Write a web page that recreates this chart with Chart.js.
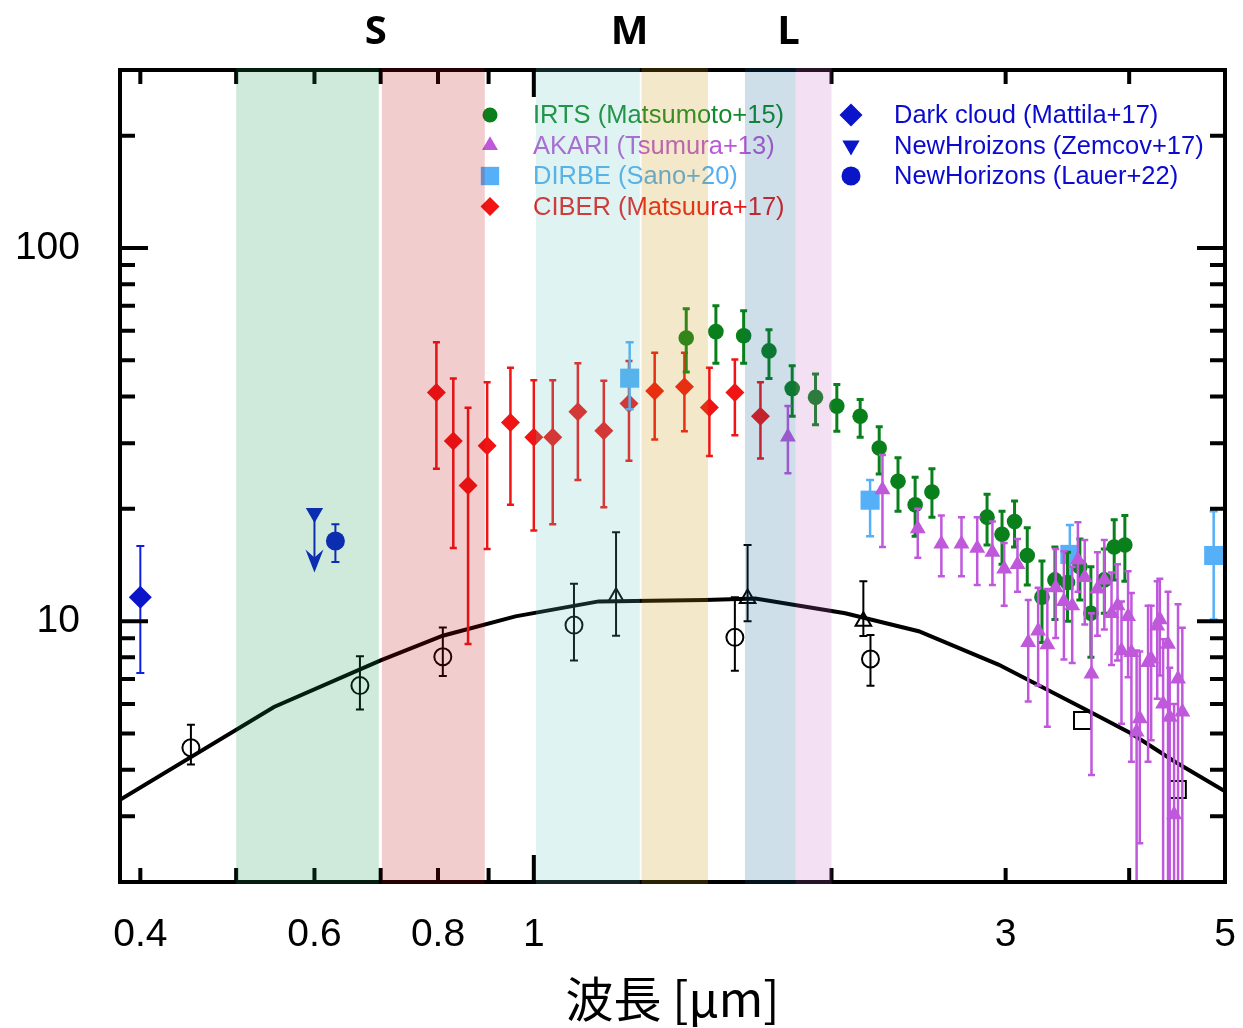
<!DOCTYPE html>
<html>
<head>
<meta charset="utf-8">
<script src="https://cdn.jsdelivr.net/npm/chart.js@4.4.1/dist/chart.umd.min.js"></script>
<style>
  html, body { margin: 0; padding: 0; background: #fff; }
  #wrap { width: 1243px; height: 1028px; }
</style>
</head>
<body>
<div id="wrap"><canvas id="chart" width="1243" height="1028"></canvas></div>
<script>
// axis ticks
const xTicks = [0.4, 0.5, 0.6, 0.7, 0.8, 0.9, 1, 2, 3, 4, 5];
const xLabels = [0.4, 0.6, 0.8, 1, 3, 5];
const yTicks = [3, 4, 5, 6, 7, 8, 9, 10, 20, 30, 40, 50, 60, 70, 80, 90, 100, 200];
const yLabels = [10, 100];

// filter bands (µm) and names above the plot
const bandRanges = [[0.5, 0.697], [0.702, 0.892], [1.005, 1.28], [1.285, 1.5], [1.635, 1.84], [1.84, 2.0]];
const bandColors = ['rgba(15,145,75,0.2)', 'rgba(190,5,10,0.2)', 'rgba(95,195,190,0.2)',
                    'rgba(200,150,14,0.22)', 'rgba(15,95,145,0.2)', 'rgba(195,105,195,0.2)'];
const bandNames = ['S', 'M', 'L'];
const bandNameX = [0.692, 1.25, 1.81];

// model curve
const modelX = [0.3815, 0.546, 0.7, 0.809, 0.958, 1.163, 1.49, 1.675, 2.065, 2.45, 2.95, 3.63, 4.02, 4.45, 5.0];
const modelY = [3.32, 5.89, 7.85, 9.14, 10.3, 11.3, 11.4, 11.5, 10.5, 9.4, 7.65, 5.76, 5.0, 4.2, 3.5];

// open black markers
const circX = [0.450, 0.667, 0.809, 1.098, 1.597, 2.19];
const circY = [4.58, 6.72, 8.03, 9.76, 9.05, 7.92];
const circLo = [4.13, 5.80, 7.13, 7.84, 7.36, 6.71];
const circHi = [5.28, 8.05, 9.62, 12.6, 11.6, 9.18];
const triX = [1.211, 1.645, 2.154];
const triY = [11.6, 11.5, 10.0];
const triLo = [9.14, 10.0, 9.12];
const triHi = [17.3, 16.0, 12.8];
const sqX = [3.588, 4.475];
const sqY = [5.42, 3.54];

// IRTS (Matsumoto+15)
const irtsX = [1.426, 1.528, 1.630, 1.729, 1.825, 1.927, 2.025, 2.138, 2.235, 2.335, 2.430, 2.527,
               2.873, 2.975, 3.063, 3.155, 3.265, 3.365, 3.465, 3.566, 3.659, 3.775, 3.863, 3.960];
const irtsY = [57.4, 59.7, 58.2, 53.0, 42.0, 39.8, 37.7, 35.4, 29.1, 23.7, 20.5, 22.2,
               19.0, 17.1, 18.5, 15.0, 11.6, 12.9, 12.7, 14.0, 10.5, 12.9, 15.8, 16.0];
const irtsLo = [46.5, 49.1, 49.1, 44.7, 35.4, 33.6, 32.3, 31.1, 24.8, 19.7, 16.9, 19.0,
                16.0, 14.2, 15.8, 12.5, 8.77, 10.1, 10.0, 11.4, 8.0, 10.5, 12.9, 12.8];
const irtsHi = [68.7, 70.0, 67.9, 60.4, 48.4, 46.0, 43.1, 39.3, 33.2, 27.4, 24.3, 25.6,
                21.9, 19.7, 21.0, 17.8, 14.5, 15.8, 15.3, 16.6, 14.0, 15.6, 18.7, 19.2];

// AKARI (Tsumura+13)
const akariX = [1.807, 2.252, 2.445, 2.583, 2.707, 2.808, 2.909, 2.99, 3.084, 3.162, 3.236, 3.306,
                3.371, 3.436, 3.503, 3.55, 3.607, 3.664, 3.715, 3.775, 3.839, 3.893, 3.929, 3.99,
                4.021, 4.07, 4.10, 4.18, 4.21, 4.27, 4.296, 4.329, 4.379, 4.396, 4.441, 4.482, 4.527];
const akariY = [31.2, 22.5, 17.7, 16.1, 16.1, 15.7, 15.3, 13.8, 14.2, 8.77, 9.42, 8.65,
                12.3, 11.3, 11.0, 14.6, 13.1, 7.22, 12.2, 12.9, 10.5, 11.0, 8.34, 10.3,
                8.25, 5.05, 5.48, 7.76, 7.92, 9.72, 10.1, 6.0, 8.68, 5.53, 3.03, 7.0, 5.71];
const akariLo = [24.9, 15.8, 14.8, 13.2, 13.2, 12.5, 12.5, 11.0, 12.0, 6.09, 6.72, 5.21,
                 9.01, 7.9, 7.72, 12.0, 9.8, 3.87, 9.14, 9.5, 7.63, 7.84, 5.31, 7.08,
                 4.20, 1.5, 2.54, 4.2, 4.8, 6.20, 7.15, 1.5, 1.5, 1.5, 1.5, 1.5, 1.5];
const akariHi = [37.7, 27.9, 20.0, 19.2, 19.0, 19.0, 18.5, 16.2, 16.6, 11.4, 12.3, 12.2,
                 15.6, 15.4, 14.0, 18.4, 16.5, 10.5, 15.3, 16.5, 13.5, 14.2, 11.3, 13.6,
                 11.9, 8.34, 8.3, 11.0, 11.0, 12.8, 13.0, 8.95, 12.0, 7.5, 6.0, 11.1, 9.6];

// DIRBE (Sano+20)
const dirbeX = [1.25, 2.188, 3.484, 4.87];
const dirbeY = [44.8, 21.1, 15.1, 15.0];
const dirbeLo = [37.0, 16.9, 12.2, 10.1];
const dirbeHi = [55.9, 23.9, 18.1, 19.7];

// CIBER (Matsuura+17)
const ciberX = [0.797, 0.829, 0.858, 0.897, 0.947, 1.0, 1.045, 1.108, 1.177, 1.248, 1.325, 1.420, 1.505, 1.597, 1.695];
const ciberY = [41.0, 30.4, 23.1, 29.5, 34.1, 31.1, 31.1, 36.4, 32.4, 38.3, 41.4, 42.5, 37.4, 41.0, 35.4];
const ciberLo = [25.6, 15.7, 8.68, 15.6, 20.5, 17.5, 18.2, 23.9, 20.2, 26.9, 30.7, 32.3, 27.7, 31.5, 27.3];
const ciberHi = [55.9, 44.7, 37.3, 43.7, 47.8, 44.2, 44.2, 49.1, 44.1, 49.8, 52.4, 52.4, 47.8, 50.3, 43.7];

// blue points
const darkX = [0.4], darkY = [11.6], darkLo = [7.26], darkHi = [15.9];
const zemX = [0.6], zemY = [19.5], zemLim = [13.5];
const lauerX = [0.63], lauerY = [16.4], lauerLo = [14.4], lauerHi = [18.2];

const pts = (xs, ys, lo, hi, lim) => xs.map((x, i) => ({
  x, y: ys[i], lo: lo ? lo[i] : null, hi: hi ? hi[i] : null, lim: lim ? lim[i] : null
}));

const GREEN = '#0a801c', PURPLE = '#c058dc', SKY = '#55b0f8', RED = '#f01414', BLUE = '#0a14c8';

const datasets = [
  { label: 'model', data: pts(modelX, modelY), showLine: true, borderColor: '#000', borderWidth: 4,
    pointRadius: 0, fill: false, order: 20 },
  { label: 'circ', data: pts(circX, circY, circLo, circHi), pointStyle: 'circle', pointRadius: 8.5,
    backgroundColor: 'rgba(0,0,0,0)', borderColor: '#000', borderWidth: 2, errColor: '#000', errWidth: 2, cap: 4, order: 19 },
  { label: 'tri', data: pts(triX, triY, triLo, triHi), pointStyle: 'triangle', pointRadius: 9,
    backgroundColor: 'rgba(0,0,0,0)', borderColor: '#000', borderWidth: 2, errColor: '#000', errWidth: 2, cap: 4, order: 18 },
  { label: 'sq', data: pts(sqX, sqY), pointStyle: 'rect', pointRadius: 12,
    backgroundColor: 'rgba(0,0,0,0)', borderColor: '#000', borderWidth: 2, order: 17 },
  { label: 'DIRBE (Sano+20)', data: pts(dirbeX, dirbeY, dirbeLo, dirbeHi), pointStyle: 'rect', pointRadius: 13.5,
    backgroundColor: SKY, borderColor: SKY, borderWidth: 0, errColor: SKY, errWidth: 2.5, cap: 4, order: 12,
    legend: { col: 0, row: 2, color: '#55aef0', r: 13 } },
  { label: 'IRTS (Matsumoto+15)', data: pts(irtsX, irtsY, irtsLo, irtsHi), pointStyle: 'circle', pointRadius: 7.8,
    backgroundColor: GREEN, borderColor: GREEN, borderWidth: 0, errColor: GREEN, errWidth: 3, cap: 3.5, order: 11,
    legend: { col: 0, row: 0, color: '#138a2c', r: 7.5 } },
  { label: 'AKARI (Tsumura+13)', data: pts(akariX, akariY, akariLo, akariHi), pointStyle: 'triangle', pointRadius: 9.2,
    backgroundColor: PURPLE, borderColor: PURPLE, borderWidth: 0, errColor: PURPLE, errWidth: 2.5, cap: 3.5, order: 10,
    legend: { col: 0, row: 1, color: '#b95ad8', r: 9.2 } },
  { label: 'CIBER (Matsuura+17)', data: pts(ciberX, ciberY, ciberLo, ciberHi), pointStyle: 'rectRot', pointRadius: 9.5,
    backgroundColor: RED, borderColor: RED, borderWidth: 0, errColor: RED, errWidth: 2.5, cap: 3.5, order: 13,
    legend: { col: 0, row: 3, color: '#e81c1c', r: 9.5 } },
  { label: 'Dark cloud (Mattila+17)', data: pts(darkX, darkY, darkLo, darkHi), pointStyle: 'rectRot', pointRadius: 11.5,
    backgroundColor: BLUE, borderColor: BLUE, borderWidth: 0, errColor: '#1020e0', errWidth: 2, cap: 4, order: 5,
    legend: { col: 1, row: 0, color: '#0a0ad0', r: 11.5 } },
  { label: 'NewHroizons (Zemcov+17)', data: pts(zemX, zemY, null, null, zemLim), pointStyle: 'triangle', rotation: 180,
    pointRadius: 10, backgroundColor: BLUE, borderColor: BLUE, borderWidth: 0, errColor: BLUE, errWidth: 2, order: 5,
    legend: { col: 1, row: 1, color: '#0a0ad0', r: 10 } },
  { label: 'NewHorizons (Lauer+22)', data: pts(lauerX, lauerY, lauerLo, lauerHi), pointStyle: 'circle', pointRadius: 9.5,
    backgroundColor: BLUE, borderColor: BLUE, borderWidth: 0, errColor: BLUE, errWidth: 2, cap: 4, order: 5,
    legend: { col: 1, row: 2, color: '#0a0ad0', r: 9.5 } }
];

// error bars (and the one upper-limit arrow) under each dataset's markers
const errorBars = {
  id: 'errorBars',
  beforeDatasetDraw(chart, args) {
    const ds = chart.data.datasets[args.index];
    if (!ds.errColor) return;
    const { ctx, chartArea: a, scales: { x, y } } = chart;
    ctx.save();
    ctx.beginPath();
    ctx.rect(a.left, a.top, a.right - a.left, a.bottom - a.top);
    ctx.clip();
    ctx.strokeStyle = ds.errColor;
    ctx.fillStyle = ds.errColor;
    ctx.lineWidth = ds.errWidth;
    const cap = ds.cap || 4;
    ds.data.forEach(p => {
      const px = x.getPixelForValue(p.x);
      if (p.lo != null) {
        const y0 = y.getPixelForValue(p.lo), y1 = y.getPixelForValue(p.hi);
        ctx.beginPath();
        ctx.moveTo(px, y0); ctx.lineTo(px, y1);
        ctx.moveTo(px - cap, y0); ctx.lineTo(px + cap, y0);
        ctx.moveTo(px - cap, y1); ctx.lineTo(px + cap, y1);
        ctx.stroke();
      }
      if (p.lim != null) {
        const y0 = y.getPixelForValue(p.y), y1 = y.getPixelForValue(p.lim);
        ctx.beginPath();
        ctx.moveTo(px, y0); ctx.lineTo(px, y1 - 10);
        ctx.stroke();
        ctx.beginPath();
        ctx.moveTo(px, y1);
        ctx.lineTo(px - 9, y1 - 23);
        ctx.lineTo(px, y1 - 15);
        ctx.lineTo(px + 9, y1 - 23);
        ctx.closePath();
        ctx.fill();
      }
    });
    ctx.restore();
  }
};

// box, inward ticks, legend, band names, then translucent bands over everything
const overlay = {
  id: 'overlay',
  afterDraw(chart) {
    const { ctx, chartArea: a, scales: { x, y } } = chart;
    ctx.save();
    ctx.strokeStyle = '#000';
    ctx.lineWidth = 4;
    ctx.strokeRect(a.left, a.top, a.right - a.left, a.bottom - a.top);
    ctx.beginPath();
    xTicks.forEach(v => {
      const px = x.getPixelForValue(v);
      const len = v === 1 ? 27 : 14;
      ctx.moveTo(px, a.bottom); ctx.lineTo(px, a.bottom - len);
      ctx.moveTo(px, a.top); ctx.lineTo(px, a.top + len);
    });
    yTicks.forEach(v => {
      const py = y.getPixelForValue(v);
      const len = yLabels.includes(v) ? 28 : 15;
      ctx.moveTo(a.left, py); ctx.lineTo(a.left + len, py);
      ctx.moveTo(a.right, py); ctx.lineTo(a.right - len, py);
    });
    ctx.stroke();

    // legend
    const colX = [[490, 533], [851, 894]];
    const rowY = [115, 145.5, 176, 206.5];
    ctx.font = '25.5px "Liberation Sans", Arial, sans-serif';
    ctx.textBaseline = 'middle';
    ctx.textAlign = 'left';
    chart.data.datasets.forEach(ds => {
      const lg = ds.legend;
      if (!lg) return;
      const [mx, tx] = colX[lg.col];
      const my = rowY[lg.row];
      ctx.fillStyle = ds.backgroundColor;
      Chart.helpers.drawPoint(ctx, { pointStyle: ds.pointStyle, rotation: ds.rotation || 0, radius: lg.r, borderWidth: 0 }, mx, my);
      ctx.fillStyle = lg.color;
      ctx.fillText(ds.label, tx, my + 1);
    });

    // S / M / L
    ctx.fillStyle = '#000';
    ctx.font = 'bold 40px "Open Sans", "Noto Sans", sans-serif';
    ctx.textAlign = 'center';
    bandNames.forEach((n, i) => ctx.fillText(n, x.getPixelForValue(bandNameX[i]), 33));

    // bands
    bandRanges.forEach(([lo, hi], i) => {
      const x0 = x.getPixelForValue(lo), x1 = x.getPixelForValue(hi);
      ctx.fillStyle = bandColors[i];
      ctx.fillRect(x0, a.top - 2, x1 - x0, a.bottom - a.top + 4);
    });
    ctx.restore();
  }
};

new Chart(document.getElementById('chart'), {
  type: 'scatter',
  data: { datasets },
  options: {
    responsive: false,
    animation: false,
    layout: { padding: { top: 70, right: 18, left: 0, bottom: 0 } },
    plugins: { legend: { display: false }, tooltip: { enabled: false } },
    scales: {
      x: {
        type: 'logarithmic', min: 0.3815, max: 5,
        afterBuildTicks: s => { s.ticks = xTicks.map(v => ({ value: v })); },
        afterFit: s => { s.height = 146; s.paddingLeft = 0; s.paddingRight = 0; },
        grid: { display: false, drawTicks: false },
        border: { display: false },
        ticks: {
          autoSkip: false, maxRotation: 0, padding: 30, color: '#000',
          font: { family: '"Liberation Sans", Arial, sans-serif', size: 39 },
          callback: v => xLabels.includes(v) ? String(v) : ''
        },
        title: {
          display: true, text: '波長 [μm]', color: '#000', padding: { top: 0, bottom: 0 },
          font: { family: '"Noto Sans CJK JP", sans-serif', size: 48 }
        }
      },
      y: {
        type: 'logarithmic', min: 2, max: 300,
        afterBuildTicks: s => { s.ticks = yTicks.map(v => ({ value: v })); },
        afterFit: s => { s.width = 120; s.paddingTop = 0; s.paddingBottom = 0; },
        grid: { display: false, drawTicks: false },
        border: { display: false },
        ticks: {
          autoSkip: false, padding: 40, color: '#000',
          font: { family: '"Liberation Sans", Arial, sans-serif', size: 39 },
          callback: v => yLabels.includes(v) ? String(v) : ''
        }
      }
    }
  },
  plugins: [errorBars, overlay]
});
</script>
</body>
</html>
